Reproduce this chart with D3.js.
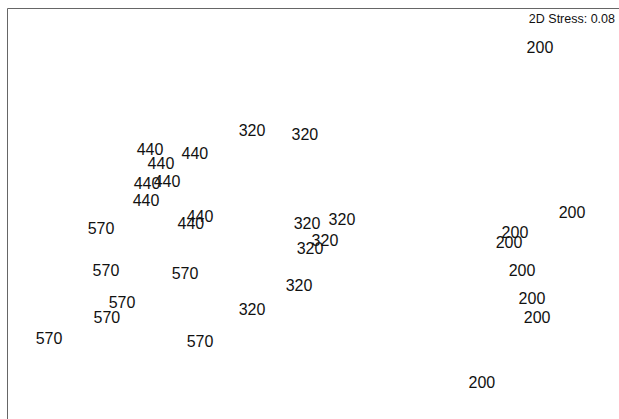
<!DOCTYPE html>
<html>
<head>
<meta charset="utf-8">
<script src="https://cdn.jsdelivr.net/npm/d3@7"></script>
<style>
  html, body { margin: 0; padding: 0; background: #fff; }
  svg { display: block; font-family: "Liberation Sans", Arial, sans-serif; }
</style>
</head>
<body>
<svg id="chart" width="619" height="419"></svg>
<script>
// NMDS ordination: sample labels (group) with their axis-1 / axis-2 scores
const groups = ["200","200","200","200","200","200","200","200",
                "320","320","320","320","320","320","320","320",
                "440","440","440","440","440","440","440","440",
                "570","570","570","570","570","570","570"];
const nmds1 = [1.186, 1.354, 1.055, 1.024, 1.092, 1.144, 1.171, 0.882,
               -0.322, -0.045, -0.034, 0.149, 0.060, -0.018, -0.076, -0.322,
               -0.856, -0.621, -0.799, -0.872, -0.767, -0.877, -0.594, -0.642,
               -1.113, -1.087, -0.673, -1.003, -1.082, -1.385, -0.594];
const nmds2 = [0.881, 0.016, -0.089, -0.142, -0.289, -0.435, -0.535, -0.876,
               0.446, 0.425, -0.042, -0.021, -0.131, -0.173, -0.367, -0.493,
               0.346, 0.325, 0.272, 0.168, 0.178, 0.078, -0.005, -0.042,
               -0.068, -0.289, -0.304, -0.456, -0.535, -0.645, -0.661];
const stressLabel = "2D Stress: 0.08";

const svg = d3.select("#chart");
const W = 619, H = 419;
const padLeft = 8, padTop = 9;

const x = d3.scaleLinear().domain([-1.6, 1.6]).range([padLeft, W]);
const y = d3.scaleLinear().domain([-1.07, 1.08]).range([H, padTop]);

// frame: top and left edges of the ordination panel
svg.append("line")
  .attr("x1", padLeft - 0.5).attr("x2", W).attr("y1", padTop - 0.5).attr("y2", padTop - 0.5)
  .attr("stroke", "#666").attr("stroke-width", 1);
svg.append("line")
  .attr("x1", padLeft - 0.5).attr("x2", padLeft - 0.5).attr("y1", padTop - 0.5).attr("y2", H)
  .attr("stroke", "#666").attr("stroke-width", 1);

const pts = groups.map((g, i) => ({ g, a: nmds1[i], b: nmds2[i] }));

svg.append("g").selectAll("text")
  .data(pts)
  .join("text")
  .attr("x", d => x(d.a))
  .attr("y", d => y(d.b))
  .attr("dy", "0.36em")
  .attr("text-anchor", "middle")
  .attr("font-size", 16)
  .attr("fill", "#111")
  .text(d => d.g);

svg.append("text")
  .attr("x", 615)
  .attr("y", 18)
  .attr("dy", "0.36em")
  .attr("text-anchor", "end")
  .attr("font-size", 12.5)
  .attr("fill", "#111")
  .text(stressLabel);
</script>
</body>
</html>
